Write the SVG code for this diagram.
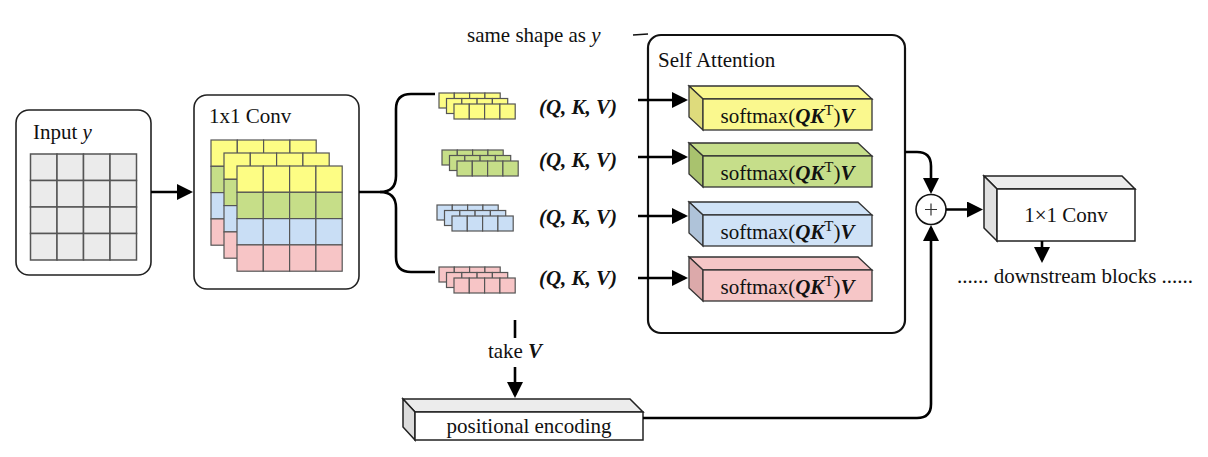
<svg xmlns="http://www.w3.org/2000/svg" width="1208" height="457" viewBox="0 0 1208 457" font-family="Liberation Serif, DejaVu Serif, serif">
<defs>
<style>
text{font-family:'Liberation Serif','DejaVu Serif',serif;font-size:21px;fill:#111}
.bi{font-weight:bold;font-style:italic}
.it{font-style:italic}
.box{fill:#fff;stroke:#222;stroke-width:1.6}
.sa{fill:#fff;stroke:#111;stroke-width:2.2}
.g{fill:#ebebeb;stroke:#555;stroke-width:1.5}
.cy{fill:#fdfd84;stroke:#555;stroke-width:1.2}
.cg{fill:#c6de88;stroke:#555;stroke-width:1.2}
.cb{fill:#c9def5;stroke:#555;stroke-width:1.2}
.cp{fill:#f7c5c6;stroke:#555;stroke-width:1.2}
.fy{fill:#faf88e}.sy{fill:#dedb7c}
.fg{fill:#c6de8a}.sg{fill:#a9c26e}
.fb{fill:#cfe2f6}.sb{fill:#afc3d9}
.fp{fill:#f6c6c7}.sp{fill:#dca9aa}
.b3 path,.b3 rect{stroke:#333;stroke-width:1.3}
.w3 path,.w3 rect{stroke:#222;stroke-width:1.5}
.ln{fill:none;stroke:#000;stroke-width:2.6}
</style>
<marker id="ah" markerUnits="userSpaceOnUse" markerWidth="16" markerHeight="16" refX="13" refY="8" orient="auto">
<path d="M0,0 L16,8 L0,16 Z" fill="#000"/>
</marker>
<g id="bigStack">
<rect class="cy" x="0" y="0" width="26.3" height="26.3"/><rect class="cy" x="26.3" y="0" width="26.3" height="26.3"/><rect class="cy" x="52.6" y="0" width="26.3" height="26.3"/><rect class="cy" x="78.9" y="0" width="26.3" height="26.3"/>
<rect class="cg" x="0" y="26.3" width="26.3" height="26.3"/><rect class="cg" x="26.3" y="26.3" width="26.3" height="26.3"/><rect class="cg" x="52.6" y="26.3" width="26.3" height="26.3"/><rect class="cg" x="78.9" y="26.3" width="26.3" height="26.3"/>
<rect class="cb" x="0" y="52.6" width="26.3" height="26.3"/><rect class="cb" x="26.3" y="52.6" width="26.3" height="26.3"/><rect class="cb" x="52.6" y="52.6" width="26.3" height="26.3"/><rect class="cb" x="78.9" y="52.6" width="26.3" height="26.3"/>
<rect class="cp" x="0" y="78.9" width="26.3" height="26.3"/><rect class="cp" x="26.3" y="78.9" width="26.3" height="26.3"/><rect class="cp" x="52.6" y="78.9" width="26.3" height="26.3"/><rect class="cp" x="78.9" y="78.9" width="26.3" height="26.3"/>
</g>
<g id="rowY"><rect class="cy" x="0" y="0" width="15.3" height="15"/><rect class="cy" x="15.3" y="0" width="15.3" height="15"/><rect class="cy" x="30.6" y="0" width="15.3" height="15"/><rect class="cy" x="45.9" y="0" width="15.3" height="15"/></g>
<g id="rowG"><rect class="cg" x="0" y="0" width="15.3" height="15"/><rect class="cg" x="15.3" y="0" width="15.3" height="15"/><rect class="cg" x="30.6" y="0" width="15.3" height="15"/><rect class="cg" x="45.9" y="0" width="15.3" height="15"/></g>
<g id="rowB"><rect class="cb" x="0" y="0" width="15.3" height="15"/><rect class="cb" x="15.3" y="0" width="15.3" height="15"/><rect class="cb" x="30.6" y="0" width="15.3" height="15"/><rect class="cb" x="45.9" y="0" width="15.3" height="15"/></g>
<g id="rowP"><rect class="cp" x="0" y="0" width="15.3" height="15"/><rect class="cp" x="15.3" y="0" width="15.3" height="15"/><rect class="cp" x="30.6" y="0" width="15.3" height="15"/><rect class="cp" x="45.9" y="0" width="15.3" height="15"/></g>
</defs>

<g id="note">
<text x="467" y="42" font-size="20">same shape as <tspan class="it">y</tspan></text>
<line x1="633" y1="35" x2="648" y2="34" stroke="#111" stroke-width="1.5"/>
</g>

<g id="input">
<rect class="box" x="16" y="110" width="135" height="165" rx="13"/>
<text x="33" y="139">Input <tspan class="it">y</tspan></text>
<g class="g">
<rect x="30.5" y="154" width="26.5" height="26.5"/><rect x="57" y="154" width="26.5" height="26.5"/><rect x="83.5" y="154" width="26.5" height="26.5"/><rect x="110" y="154" width="26.5" height="26.5"/>
<rect x="30.5" y="180.5" width="26.5" height="26.5"/><rect x="57" y="180.5" width="26.5" height="26.5"/><rect x="83.5" y="180.5" width="26.5" height="26.5"/><rect x="110" y="180.5" width="26.5" height="26.5"/>
<rect x="30.5" y="207" width="26.5" height="26.5"/><rect x="57" y="207" width="26.5" height="26.5"/><rect x="83.5" y="207" width="26.5" height="26.5"/><rect x="110" y="207" width="26.5" height="26.5"/>
<rect x="30.5" y="233.5" width="26.5" height="26.5"/><rect x="57" y="233.5" width="26.5" height="26.5"/><rect x="83.5" y="233.5" width="26.5" height="26.5"/><rect x="110" y="233.5" width="26.5" height="26.5"/>
</g>
</g>

<g id="conv1">
<rect class="box" x="194" y="95" width="165" height="194" rx="13"/>
<text x="209" y="123">1x1 Conv</text>
<use href="#bigStack" x="211" y="140"/>
<use href="#bigStack" x="224" y="153"/>
<use href="#bigStack" x="237" y="166"/>
</g>

<g id="stackY">
<use href="#rowY" x="439" y="93"/><use href="#rowY" x="446.5" y="98.5"/><use href="#rowY" x="454" y="104"/>
<text class="bi" x="578" y="114" text-anchor="middle">(Q, K, V)</text>
</g>
<g id="stackG">
<use href="#rowG" x="442" y="150"/><use href="#rowG" x="449.5" y="155.5"/><use href="#rowG" x="457" y="161"/>
<text class="bi" x="578" y="167" text-anchor="middle">(Q, K, V)</text>
</g>
<g id="stackB">
<use href="#rowB" x="437" y="205"/><use href="#rowB" x="444.5" y="210.5"/><use href="#rowB" x="452" y="216"/>
<text class="bi" x="578" y="224" text-anchor="middle">(Q, K, V)</text>
</g>
<g id="stackP">
<use href="#rowP" x="439" y="267"/><use href="#rowP" x="446.5" y="272.5"/><use href="#rowP" x="454" y="278"/>
<text class="bi" x="578" y="285" text-anchor="middle">(Q, K, V)</text>
</g>

<g id="selfAttention">
<rect class="sa" x="648" y="35" width="257" height="298" rx="13"/>
<text x="658" y="67">Self Attention</text>
</g>

<g id="smY" class="b3">
<path class="fy" d="M689,86 H858 L872,99 H703 Z"/>
<path class="sy" d="M689,86 L703,99 V130 L689,117 Z"/>
<rect class="fy" x="703" y="99" width="169" height="31"/>
<text x="787.5" y="123" text-anchor="middle">softmax(<tspan class="bi">QK</tspan><tspan font-size="15" dy="-8">T</tspan><tspan dy="8">)</tspan><tspan class="bi">V</tspan></text>
</g>
<g id="smG" class="b3">
<path class="fg" d="M689,143 H858 L872,156 H703 Z"/>
<path class="sg" d="M689,143 L703,156 V187 L689,174 Z"/>
<rect class="fg" x="703" y="156" width="169" height="31"/>
<text x="787.5" y="180" text-anchor="middle">softmax(<tspan class="bi">QK</tspan><tspan font-size="15" dy="-8">T</tspan><tspan dy="8">)</tspan><tspan class="bi">V</tspan></text>
</g>
<g id="smB" class="b3">
<path class="fb" d="M689,202 H858 L872,215 H703 Z"/>
<path class="sb" d="M689,202 L703,215 V246 L689,233 Z"/>
<rect class="fb" x="703" y="215" width="169" height="31"/>
<text x="787.5" y="239" text-anchor="middle">softmax(<tspan class="bi">QK</tspan><tspan font-size="15" dy="-8">T</tspan><tspan dy="8">)</tspan><tspan class="bi">V</tspan></text>
</g>
<g id="smP" class="b3">
<path class="fp" d="M689,257 H858 L872,270 H703 Z"/>
<path class="sp" d="M689,257 L703,270 V301 L689,288 Z"/>
<rect class="fp" x="703" y="270" width="169" height="31"/>
<text x="787.5" y="294" text-anchor="middle">softmax(<tspan class="bi">QK</tspan><tspan font-size="15" dy="-8">T</tspan><tspan dy="8">)</tspan><tspan class="bi">V</tspan></text>
</g>

<g id="plus">
<circle cx="931" cy="209.5" r="15" fill="#fff" stroke="#111" stroke-width="1.6"/>
<path d="M925,209.5 H937 M931,203.5 V215.5" stroke="#333" stroke-width="1.2"/>
</g>

<g id="conv2" class="w3">
<path fill="#ececec" d="M984,176 H1122 L1135,189 H997 Z"/>
<path fill="#e0e0e0" d="M984,176 L997,189 V241 L984,228 Z"/>
<rect fill="#fff" x="997" y="189" width="138" height="52"/>
<text x="1066" y="222" text-anchor="middle">1×1 Conv</text>
</g>

<g id="downstream">
<text x="1075" y="283" text-anchor="middle">...... downstream blocks ......</text>
</g>

<g id="posEnc" class="w3">
<path fill="#ececec" d="M403,399 H630 L643,412 H415 Z"/>
<path fill="#dcdcdc" d="M403,399 L415,412 V440 L403,427 Z"/>
<rect fill="#fff" x="415" y="412" width="228" height="28"/>
<text x="529" y="433" text-anchor="middle">positional encoding</text>
</g>

<g id="takeV">
<text x="515" y="358" text-anchor="middle">take <tspan class="bi">V</tspan></text>
</g>

<g id="connectors">
<path class="ln" d="M151,192 H190" marker-end="url(#ah)"/>
<path class="ln" d="M359,192 H380 Q396,192 396,176 V109 Q396,94 411,94 H435"/>
<path class="ln" d="M380,192 Q396,192 396,208 V257 Q396,272 411,272 H435"/>
<path class="ln" d="M638,100 H685" marker-end="url(#ah)"/>
<path class="ln" d="M638,157 H685" marker-end="url(#ah)"/>
<path class="ln" d="M638,216 H685" marker-end="url(#ah)"/>
<path class="ln" d="M638,278 H685" marker-end="url(#ah)"/>
<path class="ln" d="M905,152 H917 Q931,152 931,166 V191" marker-end="url(#ah)"/>
<path class="ln" d="M643,418 H917 Q931,418 931,404 V228" marker-end="url(#ah)"/>
<path class="ln" d="M946,209.5 H980" marker-end="url(#ah)"/>
<path class="ln" d="M1042,241 V260" marker-end="url(#ah)"/>
<path class="ln" d="M515,320 V338"/>
<path class="ln" d="M515,367 V395" marker-end="url(#ah)"/>
</g>
</svg>
